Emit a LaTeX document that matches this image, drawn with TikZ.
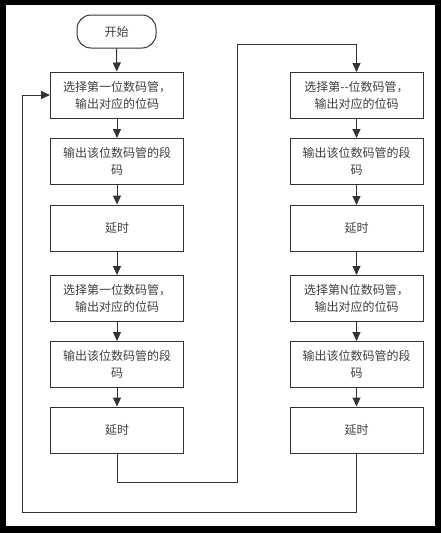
\documentclass[tikz,border=0pt]{standalone}
\usepackage{fontspec}
\newfontfamily\cjk{Noto Sans CJK SC}
\usetikzlibrary{arrows.meta}
\begin{document}
\begin{tikzpicture}[x=1pt,y=-1pt,
  box/.style={draw=black!80, line width=1pt, minimum width=133pt, minimum height=46pt,
    text width=128pt, align=center, font=\cjk\fontsize{12}{17}\selectfont, text=black!75, inner sep=0pt},
  startbox/.style={box, rounded corners=14pt, minimum width=79pt, minimum height=33pt, text width=70pt},
  arr/.style={draw=black!80, line width=1pt, -{Triangle[length=9pt,width=8pt]}}]
\fill[black] (0,0) rectangle (441,533);
\fill[white] (6,5) rectangle (435,526);
\useasboundingbox (0,0) rectangle (441,533);
\node[startbox] (s) at (116.5,31.5) {开始};
\node[box] (L1) at (117,95) {选择第一位数码管，\\输出对应的位码};
\node[box] (L2) at (117,161.5) {输出该位数码管的段\\码};
\node[box] (L3) at (117,228) {延时};
\node[box] (L4) at (117,298.5) {选择第一位数码管，\\输出对应的位码};
\node[box] (L5) at (117,364.5) {输出该位数码管的段\\码};
\node[box] (L6) at (117,430) {延时};
\node[box] (R1) at (356.5,95.5) {选择第--位数码管，\\输出对应的位码};
\node[box] (R2) at (356.5,161.5) {输出该位数码管的段\\码};
\node[box] (R3) at (356.5,228.5) {延时};
\node[box] (R4) at (356.5,298.5) {选择第N位数码管，\\输出对应的位码};
\node[box] (R5) at (356.5,364.5) {输出该位数码管的段\\码};
\node[box] (R6) at (356.5,430) {延时};
\coordinate (c1) at (237,482);
\coordinate (c2) at (237,44);
\coordinate (d1) at (22,512);
\draw[arr] (s) -- (L1);
\draw[arr] (L1) -- (L2);
\draw[arr] (L2) -- (L3);
\draw[arr] (L3) -- (L4);
\draw[arr] (L4) -- (L5);
\draw[arr] (L5) -- (L6);
\draw[arr] (R1) -- (R2);
\draw[arr] (R2) -- (R3);
\draw[arr] (R3) -- (R4);
\draw[arr] (R4) -- (R5);
\draw[arr] (R5) -- (R6);
\draw[arr] (L6.south) |- (c1) -- (c2) -| (R1.north);
\draw[arr] (R6.south) |- (d1) |- (L1.west);
\end{tikzpicture}
\end{document}
